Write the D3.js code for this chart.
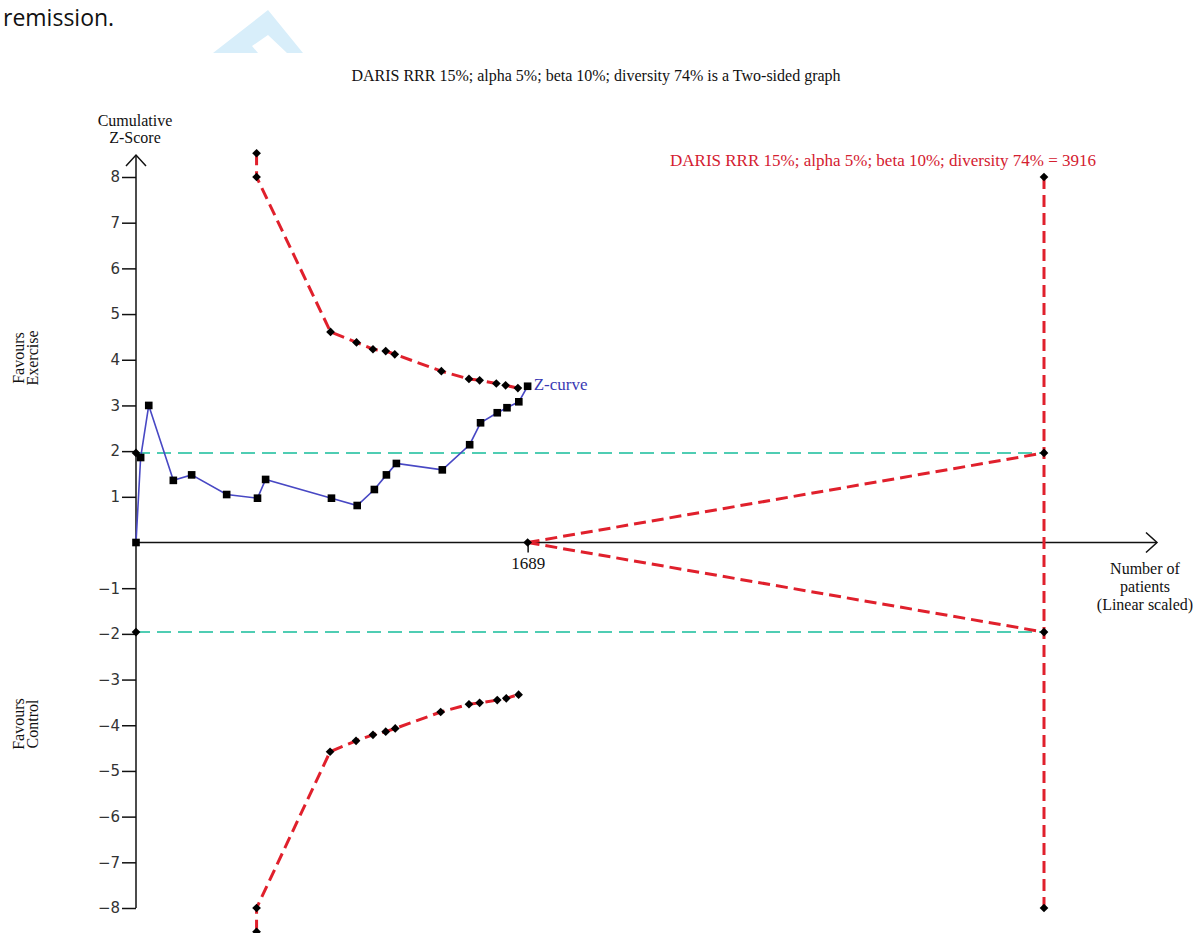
<!DOCTYPE html>
<html lang="en">
<head>
<meta charset="UTF-8">
<title>Trial sequential analysis - cumulative Z-curve</title>
<script src="https://cdn.jsdelivr.net/npm/d3@7"></script>
<style>
body { margin: 0; background: #fff; }
.serif { font-family: "Liberation Serif", "Times New Roman", serif; }
.y-axis text { font-family: "DejaVu Sans", Verdana, sans-serif; font-size: 15px; fill: #333; }
.y-axis line, .x-axis line { stroke: #111; stroke-width: 1.5; }
.x-axis text { font-family: "Liberation Serif", "Times New Roman", serif; font-size: 17px; fill: #111; }
</style>
</head>
<body>
<script>
// ---- data ----
// cumulative Z-curve (number of patients, z-score)
const zPatients = [0, 20, 55, 161, 240, 391, 524, 559, 843, 954, 1028, 1080, 1123, 1321, 1439, 1486, 1558, 1600, 1651, 1689];
const zScores   = [0, 1.86, 3.00, 1.36, 1.48, 1.05, 0.97, 1.38, 0.97, 0.81, 1.16, 1.48, 1.73, 1.59, 2.14, 2.62, 2.84, 2.95, 3.08, 3.42];

// trial sequential monitoring boundaries
const upperPatients = [520, 520, 839, 951, 1022, 1077, 1116, 1317, 1436, 1482, 1554, 1594, 1647];
const upperZ        = [8.52, 8.0, 4.61, 4.38, 4.23, 4.19, 4.12, 3.75, 3.58, 3.55, 3.48, 3.44, 3.38];
const lowerPatients = [520, 520, 837, 949, 1022, 1077, 1118, 1314, 1436, 1482, 1558, 1597, 1650];
const lowerZ        = [-8.52, -8.0, -4.58, -4.34, -4.21, -4.14, -4.07, -3.71, -3.54, -3.51, -3.45, -3.41, -3.33];

// required information size and conventional boundaries
const risPatients = 3916;
const risZ = [8, 1.96, -1.96, -8];
const wedgeStart = 1689;
const conventionalZ = [1.96, -1.96];

const yTicks = [-8, -7, -6, -5, -4, -3, -2, -1, 1, 2, 3, 4, 5, 6, 7, 8];
const xTicks = [1689];

const titleText = "DARIS RRR 15%; alpha 5%; beta 10%; diversity 74% is a Two-sided graph";
const risLabel  = "DARIS RRR 15%; alpha 5%; beta 10%; diversity 74% = 3916";

// ---- layout ----
const svg = d3.select("body").append("svg")
  .attr("width", 1200)
  .attr("height", 933);

const x = d3.scaleLinear().domain([0, 3916]).range([136, 1044]);
const y = d3.scaleLinear().domain([-8, 8]).range([908, 177]);

// text from the surrounding document
svg.append("text")
  .attr("x", 3).attr("y", 26)
  .style("font-family", "'Open Sans', sans-serif")
  .style("font-size", "23px")
  .attr("fill", "#111")
  .text("remission.");

svg.append("path")
  .attr("d", "M213,53 L268,10 L303,53 L287,53 L268,35 L252,46 L258,53 Z")
  .attr("fill", "#d8eefa");

// title
svg.append("text")
  .attr("class", "serif")
  .attr("x", 596).attr("y", 81)
  .attr("text-anchor", "middle")
  .style("font-size", "16px")
  .attr("fill", "#111")
  .text(titleText);

// conventional boundaries (teal dashed)
svg.selectAll(".conv")
  .data(conventionalZ)
  .join("line")
  .attr("class", "conv")
  .attr("x1", x(0)).attr("x2", x(risPatients))
  .attr("y1", d => y(d)).attr("y2", d => y(d))
  .attr("stroke", "#4fcdb3")
  .attr("stroke-width", 2)
  .attr("stroke-dasharray", "14,7");

// Y axis
const yAxis = svg.append("g")
  .attr("class", "y-axis")
  .attr("transform", `translate(${x(0)},0)`)
  .call(d3.axisLeft(y).tickValues(yTicks).tickSize(14).tickPadding(2));
yAxis.select(".domain").remove();

svg.append("line")
  .attr("x1", x(0)).attr("x2", x(0))
  .attr("y1", y(-8)).attr("y2", y(8) - 22)
  .attr("stroke", "#111").attr("stroke-width", 1.5);
svg.append("path")
  .attr("d", `M${x(0) - 10},${y(8) - 11} L${x(0)},${y(8) - 22} L${x(0) + 10},${y(8) - 11}`)
  .attr("fill", "none").attr("stroke", "#111").attr("stroke-width", 1.5);

// X axis
const xAxis = svg.append("g")
  .attr("class", "x-axis")
  .attr("transform", `translate(0,${y(0)})`)
  .call(d3.axisBottom(x).tickValues(xTicks).tickSize(10).tickPadding(4).tickFormat(d3.format("d")));
xAxis.select(".domain").remove();

svg.append("line")
  .attr("x1", x(0)).attr("x2", 1157)
  .attr("y1", y(0)).attr("y2", y(0))
  .attr("stroke", "#111").attr("stroke-width", 1.5);
svg.append("path")
  .attr("d", `M1146,${y(0) - 10} L1157,${y(0)} L1146,${y(0) + 10}`)
  .attr("fill", "none").attr("stroke", "#111").attr("stroke-width", 1.5);

// axis titles
const serifLabel = (lines, cx, y0, dy) => {
  const t = svg.append("text")
    .attr("class", "serif")
    .attr("text-anchor", "middle")
    .style("font-size", "16px")
    .attr("fill", "#111");
  lines.forEach((s, i) => t.append("tspan").attr("x", cx).attr("y", y0 + i * dy).text(s));
  return t;
};
serifLabel(["Cumulative", "Z-Score"], 135, 126, 17);
serifLabel(["Number of", "patients", "(Linear scaled)"], 1145, 574, 18);

const sideLabel = (lines, cy) => {
  const t = svg.append("text")
    .attr("class", "serif")
    .attr("text-anchor", "middle")
    .attr("transform", `translate(0,${cy}) rotate(-90)`)
    .style("font-size", "16px")
    .attr("fill", "#111");
  lines.forEach((s, i) => t.append("tspan").attr("x", 0).attr("y", 24 + i * 14).text(s));
};
sideLabel(["Favours", "Exercise"], 358);
sideLabel(["Favours", "Control"], 724);

// red monitoring boundaries
const red = "#e0202c";
const line = d3.line().x(d => x(d[0])).y(d => y(d[1]));
const upper = upperPatients.map((p, i) => [p, upperZ[i]]);
const lower = lowerPatients.map((p, i) => [p, lowerZ[i]]);
const risLine = risZ.map(z => [risPatients, z]);
const wedges = [[[wedgeStart, 0], [risPatients, risZ[1]]], [[wedgeStart, 0], [risPatients, risZ[2]]]];

[upper, lower, risLine, ...wedges].forEach(pts => {
  svg.append("path")
    .attr("d", line(pts))
    .attr("fill", "none")
    .attr("stroke", red)
    .attr("stroke-width", 3)
    .attr("stroke-dasharray", "12,6");
});

// Z-curve
const zPts = zPatients.map((p, i) => [p, zScores[i]]);
svg.append("path")
  .attr("d", line(zPts))
  .attr("fill", "none")
  .attr("stroke", "#4848c4")
  .attr("stroke-width", 1.6);

// diamond markers
const diamond = d3.symbol(d3.symbolSquare, 38);
const diamondPts = [
  ...upper, ...lower, ...risLine,
  [wedgeStart, 0], [0, conventionalZ[0]], [0, conventionalZ[1]]
];
svg.selectAll(".dia")
  .data(diamondPts)
  .join("path")
  .attr("class", "dia")
  .attr("d", diamond)
  .attr("transform", d => `translate(${x(d[0])},${y(d[1])}) rotate(45)`)
  .attr("fill", "#000");

// square markers on the Z-curve
svg.selectAll(".sq")
  .data(zPts)
  .join("path")
  .attr("class", "sq")
  .attr("d", d3.symbol(d3.symbolSquare, 58))
  .attr("transform", d => `translate(${x(d[0])},${y(d[1])})`)
  .attr("fill", "#000");

svg.append("text")
  .attr("class", "serif")
  .attr("x", x(zPatients[zPatients.length - 1]) + 6)
  .attr("y", y(zScores[zScores.length - 1]) + 4)
  .style("font-size", "17px")
  .attr("fill", "#3a3ab4")
  .text("Z-curve");

svg.append("text")
  .attr("class", "serif")
  .attr("x", 670).attr("y", 166)
  .style("font-size", "17px")
  .attr("fill", "#d42030")
  .text(risLabel);
</script>
</body>
</html>
